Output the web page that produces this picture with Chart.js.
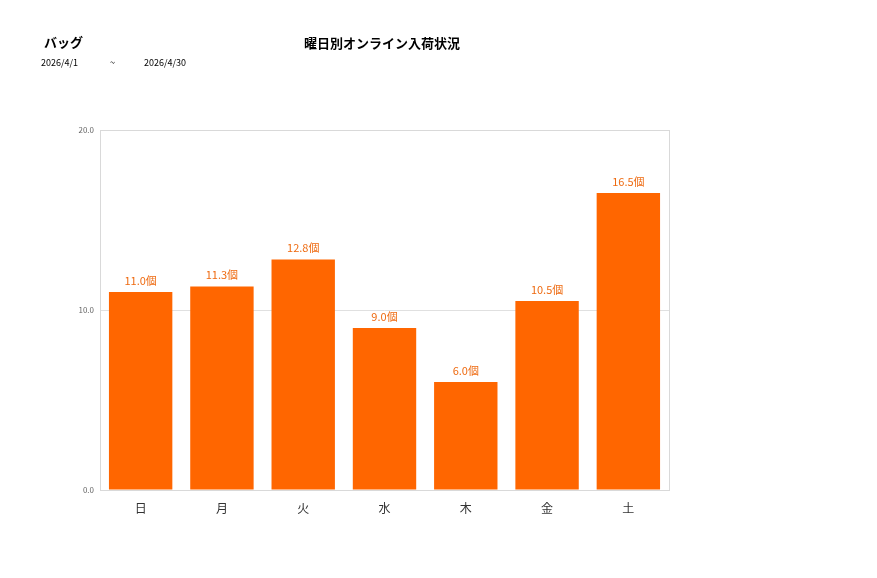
<!DOCTYPE html>
<html><head><meta charset="utf-8">
<script src="https://cdn.jsdelivr.net/npm/chart.js@4"></script>
<style>body{margin:0;background:#fff}#w{width:877px;height:578px;position:relative}</style>
</head><body><div id="w"><canvas id="c"></canvas></div>
<script>
const categories=['日','月','火','水','木','金','土'];
const values=[11.0,11.3,12.8,9.0,6.0,10.5,16.5];
const yTicks=[0,10,20];
const F='"Noto Sans CJK JP","Noto Sans",sans-serif';
const deco={id:'deco',
afterDatasetsDraw(ch){const c=ch.ctx,a=ch.chartArea;c.save();
c.strokeStyle='#d9d9d9';c.lineWidth=1;c.strokeRect(a.left+0.5,a.top+0.5,a.right-a.left,a.bottom-a.top);
const m=ch.getDatasetMeta(0);c.fillStyle='#ee6a10';c.font='11px '+F;c.textAlign='center';c.textBaseline='bottom';
m.data.forEach((b,i)=>c.fillText(values[i].toFixed(1)+'個',b.x,b.y-6));
c.fillStyle='#000';c.font='bold 13px '+F;c.textAlign='left';c.textBaseline='middle';c.fillText('バッグ',44,42);
c.textAlign='center';c.fillText('曜日別オンライン入荷状況',382,43);
c.font='9px '+F;c.textAlign='left';c.fillText('2026/4/1',41,63);c.fillText('~',110,63);c.fillText('2026/4/30',144,63);
c.restore();}};
new Chart(document.getElementById('c'),{type:'bar',
data:{labels:categories,datasets:[{data:values,backgroundColor:'#ff6600',categoryPercentage:1,barPercentage:0.78}]},
options:{responsive:true,maintainAspectRatio:false,animation:false,
layout:{padding:{left:60,right:208,top:130,bottom:58}},
plugins:{legend:{display:false},tooltip:{enabled:false}},
scales:{
x:{grid:{display:false},border:{color:'#d9d9d9'},ticks:{color:'#333',font:{family:F,size:12}},afterFit:s=>{s.height=30}},
y:{min:0,max:20,afterBuildTicks:s=>{s.ticks=yTicks.map(v=>({value:v}))},grid:{color:'#e0e0e0',drawTicks:false},border:{display:false},
ticks:{color:'#666',font:{family:F,size:8},padding:6,callback:v=>v.toFixed(1)},afterFit:s=>{s.width=40}}}},
plugins:[deco]});
</script></body></html>
